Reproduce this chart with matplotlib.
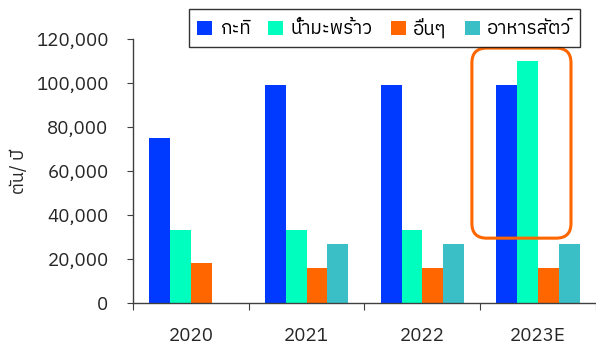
import numpy as np
import matplotlib
matplotlib.use("Agg")
import matplotlib.pyplot as plt
from matplotlib.patches import FancyBboxPatch

plt.rcParams['font.family'] = ['IBM Plex Sans Thai', 'DejaVu Sans']

# data (tons / year)
years = ['2020', '2021', '2022', '2023E']
series = ['กะทิ', 'น้ำมะพร้าว', 'อื่นๆ', 'อาหารสัตว์']
kati = [75000, 99000, 99000, 99000]
coconut_water = [33000, 33000, 33000, 110000]
others = [18000, 16000, 16000, 16000]
feed = [0, 27000, 27000, 27000]
colors = ['#0039FF', '#00FFBF', '#FF6600', '#3BBFC7']

fig = plt.figure(figsize=(5.96, 3.46), dpi=100)
ax = fig.add_axes([0.223, 0.124, 0.777, 0.763])

x = np.arange(len(years))
w = 0.18
for i, vals in enumerate([kati, coconut_water, others, feed]):
    ax.bar(x + (i - 1.5) * w, vals, w, color=colors[i], label=series[i])

ax.set_xlim(-0.5, 3.5)
ax.set_ylim(0, 120000)
ax.set_yticks(np.arange(0, 120001, 20000))
ax.set_yticklabels(['{:,}'.format(v) for v in range(0, 120001, 20000)])
ax.set_ylabel('ตัน/ ปี', fontsize=13, color='#262626', labelpad=6)

# category boundaries as ticks, names in between
ax.set_xticks(np.arange(-0.5, 3.6, 1.0))
ax.set_xticklabels([])
ax.set_xticks(x, minor=True)
ax.set_xticklabels(years, minor=True)
ax.tick_params(axis='x', which='major', length=5, direction='out', color='#404040')
ax.tick_params(axis='x', which='minor', length=0, pad=17, labelsize=13.5, labelcolor='#262626')
ax.tick_params(axis='y', length=4.5, labelsize=13.5, labelcolor='#262626', color='#404040', pad=13)

for s in ['top', 'right']:
    ax.spines[s].set_visible(False)
for s in ['left', 'bottom']:
    ax.spines[s].set_color('#404040')
    ax.spines[s].set_linewidth(1.0)

# highlight box around 2023E
box = FancyBboxPatch((0.732, 0.246), 0.214, 0.72, boxstyle='round,pad=0,rounding_size=0.032',
                     mutation_aspect=1.75, transform=ax.transAxes, fill=False,
                     edgecolor='#FF6600', linewidth=2.2, clip_on=False, zorder=5)
ax.add_patch(box)

leg = fig.legend(loc='center', bbox_to_anchor=(0.645, 0.919), ncol=4, fontsize=13.5,
                 frameon=True, fancybox=False, edgecolor='black', handlelength=0.8,
                 handleheight=0.8, handletextpad=0.4, columnspacing=0.95,
                 borderpad=0.45, borderaxespad=0)
leg.get_frame().set_linewidth(1.0)

fig.savefig('out.png', dpi=100)
